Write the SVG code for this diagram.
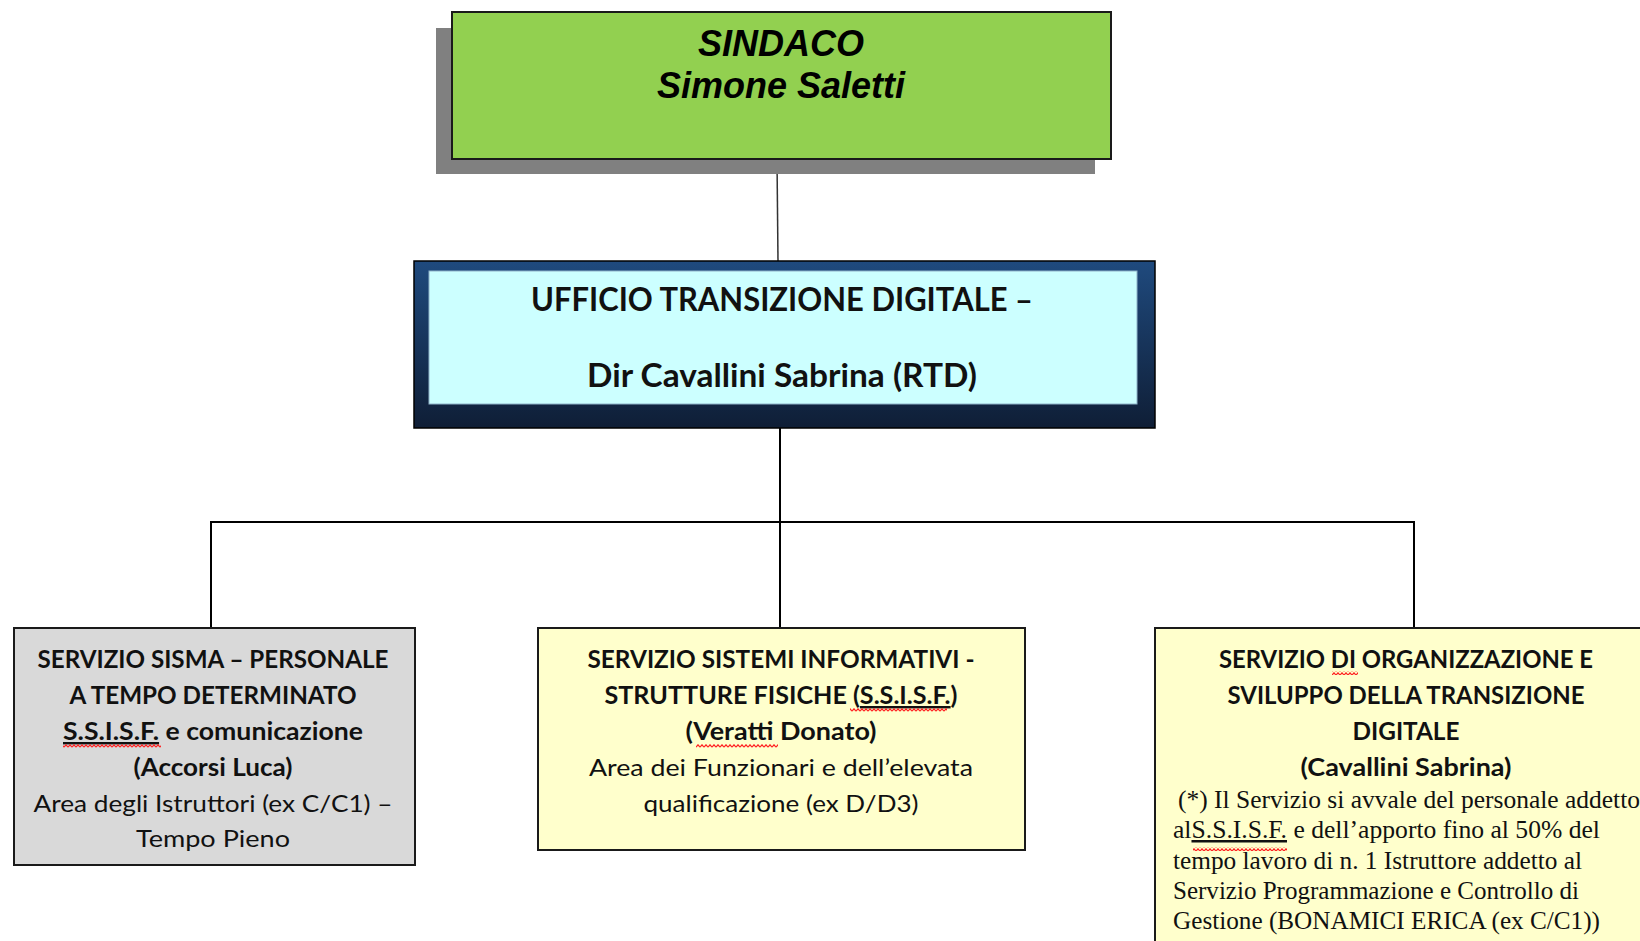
<svg xmlns="http://www.w3.org/2000/svg" width="1640" height="941" viewBox="0 0 1640 941">
  <defs>
    <linearGradient id="navy" x1="0" y1="0" x2="0" y2="1">
      <stop offset="0" stop-color="#1f4a7e"/>
      <stop offset="1" stop-color="#0f1e36"/>
    </linearGradient>
    <!-- spell-check squiggle -->
    <pattern id="wave" width="4" height="4" patternUnits="userSpaceOnUse">
      <path d="M0,3.2 L2,0.8 L4,3.2" fill="none" stroke="#ff2020" stroke-width="1.2"/>
    </pattern>
    <style>
      .link { stroke: #000; stroke-width: 2; fill: none; }
      .box { stroke: #1a1a1a; stroke-width: 2; }
      .sans { font-family: "Liberation Sans", Arial, sans-serif; }
      .cal { font-family: Lato, "Noto Sans", sans-serif; fill: #111; }
      .calb { font-family: Lato, "Noto Sans", sans-serif; font-weight: bold; fill: #111; }
      .serif { font-family: "Liberation Serif", "Times New Roman", serif; fill: #111; }
      .ul { text-decoration: underline; }
    </style>
  </defs>

  <rect width="1640" height="941" fill="#ffffff"/>

  <!-- connectors -->
  <g id="connectors">
    <line x1="777" y1="159" x2="778" y2="261" stroke="#333" stroke-width="1.5"/>
    <line class="link" x1="780" y1="428" x2="780" y2="627"/>
    <polyline class="link" points="211,627 211,522 1414,522 1414,627"/>
  </g>

  <!-- mayor -->
  <g id="sindaco">
    <rect x="436" y="28" width="659" height="146" fill="#808080"/>
    <rect class="box" x="452" y="12" width="659" height="147" fill="#92d050"/>
    <text class="sans" x="781" y="56" font-size="36" font-weight="bold" font-style="italic" text-anchor="middle" fill="#000">SINDACO</text>
    <text class="sans" x="781" y="98" font-size="36" font-weight="bold" font-style="italic" text-anchor="middle" fill="#000">Simone Saletti</text>
  </g>

  <!-- digital transition office -->
  <g id="ufficio-transizione">
    <rect x="414" y="261" width="741" height="167" fill="url(#navy)" stroke="#000" stroke-width="1.5"/>
    <rect x="429" y="271" width="708" height="133" fill="#ccffff" stroke="#8fb3c9" stroke-width="1"/>
    <text class="calb" x="782" y="311" font-size="33" text-anchor="middle" textLength="502" lengthAdjust="spacingAndGlyphs">UFFICIO TRANSIZIONE DIGITALE –</text>
    <text class="calb" x="782" y="387" font-size="33" text-anchor="middle" textLength="390" lengthAdjust="spacingAndGlyphs">Dir Cavallini Sabrina (RTD)</text>
  </g>

  <!-- temporary staff service -->
  <g id="servizio-sisma">
    <rect class="box" x="14" y="628" width="401" height="237" fill="#d9d9d9"/>
    <text class="calb" x="213" y="668" font-size="24" text-anchor="middle" textLength="351" lengthAdjust="spacingAndGlyphs">SERVIZIO SISMA – PERSONALE</text>
    <text class="calb" x="213" y="704" font-size="24" text-anchor="middle" textLength="287" lengthAdjust="spacingAndGlyphs">A TEMPO DETERMINATO</text>
    <text class="calb" x="213" y="740" font-size="24" text-anchor="middle" textLength="300" lengthAdjust="spacingAndGlyphs"><tspan class="ul">S.S.I.S.F.</tspan> e comunicazione</text>
    <rect x="63" y="744" width="98" height="4" fill="url(#wave)"/>
    <text class="calb" x="213" y="776" font-size="24" text-anchor="middle" textLength="159" lengthAdjust="spacingAndGlyphs">(Accorsi Luca)</text>
    <text class="cal" x="213" y="812" font-size="24" text-anchor="middle" textLength="359" lengthAdjust="spacingAndGlyphs">Area degli Istruttori (ex C/C1) –</text>
    <text class="cal" x="213" y="847" font-size="24" text-anchor="middle" textLength="154" lengthAdjust="spacingAndGlyphs">Tempo Pieno</text>
  </g>

  <!-- information systems service -->
  <g id="servizio-sistemi-informativi">
    <rect class="box" x="538" y="628" width="487" height="222" fill="#ffffcc"/>
    <text class="calb" x="781" y="668" font-size="24" text-anchor="middle" textLength="387" lengthAdjust="spacingAndGlyphs">SERVIZIO SISTEMI INFORMATIVI -</text>
    <text class="calb" x="781" y="704" font-size="24" text-anchor="middle" textLength="353" lengthAdjust="spacingAndGlyphs">STRUTTURE FISICHE (<tspan class="ul">S.S.I.S.F.</tspan>)</text>
    <rect x="850" y="708" width="97" height="4" fill="url(#wave)"/>
    <text class="calb" x="781" y="740" font-size="24" text-anchor="middle" textLength="191" lengthAdjust="spacingAndGlyphs">(Veratti Donato)</text>
    <rect x="696" y="744" width="82" height="4" fill="url(#wave)"/>
    <text class="cal" x="781" y="776" font-size="24" text-anchor="middle" textLength="384" lengthAdjust="spacingAndGlyphs">Area dei Funzionari e dell’elevata</text>
    <text class="cal" x="781" y="812" font-size="24" text-anchor="middle" textLength="275" lengthAdjust="spacingAndGlyphs">qualificazione (ex D/D3)</text>
  </g>

  <!-- organisation and digital transition service -->
  <g id="servizio-organizzazione">
    <rect class="box" x="1155" y="628" width="520" height="340" fill="#ffffcc"/>
    <text class="calb" x="1406" y="668" font-size="24" text-anchor="middle" textLength="374" lengthAdjust="spacingAndGlyphs">SERVIZIO DI ORGANIZZAZIONE E</text>
    <rect x="1332" y="671" width="26" height="4" fill="url(#wave)"/>
    <text class="calb" x="1406" y="704" font-size="24" text-anchor="middle" textLength="357" lengthAdjust="spacingAndGlyphs">SVILUPPO DELLA TRANSIZIONE</text>
    <text class="calb" x="1406" y="740" font-size="24" text-anchor="middle" textLength="107" lengthAdjust="spacingAndGlyphs">DIGITALE</text>
    <text class="calb" x="1406" y="776" font-size="24" text-anchor="middle" textLength="211" lengthAdjust="spacingAndGlyphs">(Cavallini Sabrina)</text>
    <text class="serif" x="1178" y="808" font-size="25" textLength="462" lengthAdjust="spacingAndGlyphs">(*) Il Servizio si avvale del personale addetto</text>
    <text class="serif" x="1173" y="838" font-size="25" textLength="427" lengthAdjust="spacingAndGlyphs">al<tspan class="ul">S.S.I.S.F.</tspan>  e dell’apporto fino al 50% del</text>
    <rect x="1193" y="847" width="94" height="4" fill="url(#wave)"/>
    <text class="serif" x="1173" y="869" font-size="25" textLength="409" lengthAdjust="spacingAndGlyphs">tempo lavoro di n. 1 Istruttore addetto al</text>
    <text class="serif" x="1173" y="899" font-size="25" textLength="406" lengthAdjust="spacingAndGlyphs">Servizio Programmazione e Controllo di</text>
    <text class="serif" x="1173" y="929" font-size="25" textLength="427" lengthAdjust="spacingAndGlyphs">Gestione (BONAMICI ERICA (ex C/C1))</text>
  </g>
</svg>
